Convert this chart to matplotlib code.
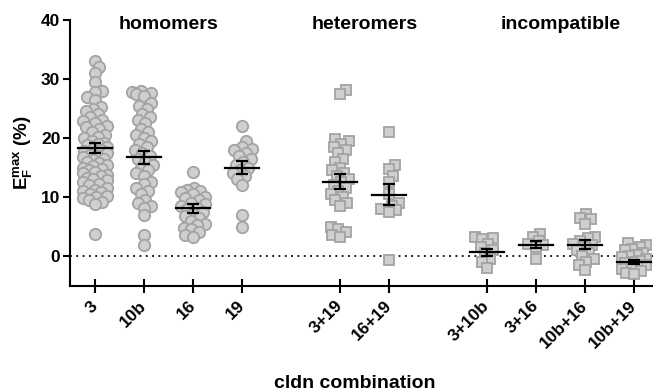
import numpy as np
import matplotlib
matplotlib.use('Agg')
from matplotlib import pyplot as plt

plt.rcParams['font.family'] = ['Liberation Sans', 'DejaVu Sans']
plt.rcParams['font.weight'] = 'bold'
plt.rcParams['mathtext.fontset'] = 'custom'
plt.rcParams['mathtext.rm'] = 'Liberation Sans:bold'
plt.rcParams['mathtext.bf'] = 'Liberation Sans:bold'
plt.rcParams['mathtext.it'] = 'Liberation Sans:bold'

# combinations and where they sit on the x axis
labels = ['3', '10b', '16', '19', '3+19', '16+19', '3+10b', '3+16', '10b+16', '10b+19']
positions = [0, 1, 2, 3, 5, 6, 8, 9, 10, 11]
markers = ['o', 'o', 'o', 'o', 's', 's', 's', 's', 's', 's']

groups = ['homomers', 'heteromers', 'incompatible']
group_centers = [1.5, 5.5, 9.5]

# EF max values (%)
v_3 = [33.0, 32.0, 31.0, 29.5, 28.0, 27.8, 27.0, 26.5, 25.3, 25.0, 24.5, 24.0,
       23.5, 23.0, 22.8, 22.5, 22.0, 21.8, 21.5, 21.0, 20.5, 20.2, 20.0, 19.5,
       19.2, 19.0, 18.8, 18.5, 18.2, 18.0, 17.8, 17.5, 17.2, 17.0, 16.8, 16.5,
       16.2, 16.0, 15.8, 15.5, 15.2, 15.0, 14.8, 14.5, 14.2, 14.0, 13.8, 13.5,
       13.2, 13.0, 12.8, 12.5, 12.2, 12.0, 11.5, 11.2, 11.0, 10.8, 10.5, 10.2,
       10.0, 9.8, 9.5, 9.2, 8.8, 3.7]
v_10b = [28.0, 27.8, 27.7, 27.5, 27.2, 26.0, 25.5, 25.0, 24.0, 23.5, 23.0, 22.5,
         21.5, 21.0, 20.5, 20.0, 19.5, 19.0, 18.5, 18.0, 17.5, 17.0, 16.5, 16.0,
         15.5, 15.0, 14.5, 14.0, 13.5, 12.5, 12.2, 11.5, 11.0, 10.5, 9.5, 9.0,
         8.5, 8.2, 7.0, 3.5, 1.8]
v_16 = [14.2, 11.5, 11.2, 11.0, 10.8, 10.5, 10.0, 9.8, 9.5, 9.0, 8.8, 8.5, 8.2,
        8.0, 7.5, 7.2, 6.8, 6.5, 6.0, 5.5, 5.2, 4.8, 4.5, 4.0, 3.5, 3.3]
v_19 = [22.0, 19.5, 18.5, 18.2, 18.0, 17.5, 17.0, 16.5, 16.0, 15.5, 15.0, 14.5,
        14.0, 13.5, 13.0, 12.0, 7.0, 5.0]
v_3_19 = [28.2, 27.5, 19.8, 19.5, 19.0, 18.5, 18.0, 17.5, 16.5, 16.0, 15.0, 14.5,
          14.0, 13.5, 13.0, 12.5, 12.0, 11.5, 11.0, 10.5, 10.0, 9.5, 9.0, 8.5,
          5.0, 4.5, 4.0, 3.5, 3.2]
v_16_19 = [21.0, 15.5, 14.8, 13.5, 12.5, 10.5, 9.0, 8.5, 8.0, 7.8, 7.5, -0.7]
v_3_10b = [3.2, 3.0, 2.8, 2.0, 1.5, 1.0, 0.5, -0.5, -1.0, -2.0]
v_3_16 = [3.8, 3.2, 2.5, 2.0, 1.8, 1.5, -0.5]
v_10b_16 = [7.2, 6.5, 6.2, 5.5, 3.2, 3.0, 2.5, 2.0, 1.8, 1.5, 1.0, 0.5, 0.0,
            -0.5, -1.0, -1.5, -2.3]
v_10b_19 = [2.2, 1.8, 1.5, 1.2, 1.0, 0.5, 0.2, 0.0, -0.2, -0.5, -0.8, -1.0,
            -1.2, -1.5, -1.8, -2.0, -2.2, -2.5, -2.8, -3.0]
values = [v_3, v_10b, v_16, v_19, v_3_19, v_16_19, v_3_10b, v_3_16, v_10b_16, v_10b_19]

# mean and SEM as drawn in the figure
means = [18.3, 16.7, 8.1, 15.0, 12.6, 10.4, 0.6, 1.9, 1.9, -1.0]
sems = [0.85, 1.15, 0.75, 1.1, 1.25, 1.75, 0.65, 0.6, 0.75, 0.3]

PX_X = 49.0   # pixels per category step
PX_Y = 5.9    # pixels per y unit


def swarm_offsets(vals, min_dist=7.0, max_off=12.0, step=1.5):
    """Simple beeswarm: x offsets (in category units) for a column of points."""
    vals = np.asarray(vals, dtype=float)
    order = np.argsort(vals)
    placed = []
    offs = np.zeros(len(vals))
    for n, i in enumerate(order):
        y = vals[i] * PX_Y
        sign = 1 if n % 2 == 0 else -1
        cands = [0.0]
        k = 1
        while k * step <= max_off:
            cands += [sign * k * step, -sign * k * step]
            k += 1
        best, best_d, chosen = None, -1.0, None
        for c in cands:
            d = min((np.hypot(c - px, y - py) for px, py in placed), default=np.inf)
            if d >= min_dist:
                chosen = c
                break
            if d > best_d:
                best_d, best = d, c
        if chosen is None:
            chosen = best
        placed.append((chosen, y))
        offs[i] = chosen / PX_X
    return offs


fig = plt.figure(figsize=(6.53, 3.92), dpi=100)
ax = fig.add_axes([70 / 653, 1 - 285.5 / 392, 583 / 653, 265.5 / 392])

face = '#cfcfcf'
edge = '#a3a3a3'
for pos, vals, m in zip(positions, values, markers):
    offs = swarm_offsets(vals)
    ms = 8.2 if m == 'o' else 7.2
    ax.plot(pos + offs, vals, linestyle='none', marker=m, ms=ms,
            markerfacecolor=face, markeredgecolor=edge, markeredgewidth=1.3, zorder=2)

for pos, mu, se in zip(positions, means, sems):
    ax.plot([pos - 0.34, pos + 0.34], [mu, mu], color='black', lw=1.6, zorder=4)
    ax.errorbar(pos, mu, yerr=se, fmt='none', ecolor='black', elinewidth=1.6,
                capsize=4.2, capthick=1.6, zorder=4)

ax.axhline(0, color='black', lw=1.3, linestyle=(0, (1, 2.5)), zorder=1)

for name, c in zip(groups, group_centers):
    ax.text(c, 39.2, name, ha='center', va='center', fontsize=14, fontweight='bold')

ax.set_xlim(-0.51, 11.39)
ax.set_ylim(-5, 40)
ax.set_yticks([0, 10, 20, 30, 40])
ax.set_xticks(positions)
ax.set_xticklabels(labels, rotation=45, ha='right', va='center',
                   rotation_mode='anchor', fontsize=12.5, fontweight='bold')
for t in ax.get_yticklabels():
    t.set_fontsize(12.5)
    t.set_fontweight('bold')

ax.spines['top'].set_visible(False)
ax.spines['right'].set_visible(False)
ax.spines['left'].set_linewidth(1.5)
ax.spines['bottom'].set_linewidth(1.5)
ax.tick_params(axis='y', direction='out', length=5, width=1.5, pad=2)
ax.tick_params(axis='x', direction='inout', length=10, width=1.5, pad=8)

ax.set_ylabel(r'$\mathregular{E_F^{max}}$ (%)', fontsize=13.5, fontweight='bold', labelpad=5)
fig.text(355 / 653, 1 - 384 / 392, 'cldn combination', ha='center', va='center',
         fontsize=14, fontweight='bold')

fig.savefig('out.png', dpi=100)
